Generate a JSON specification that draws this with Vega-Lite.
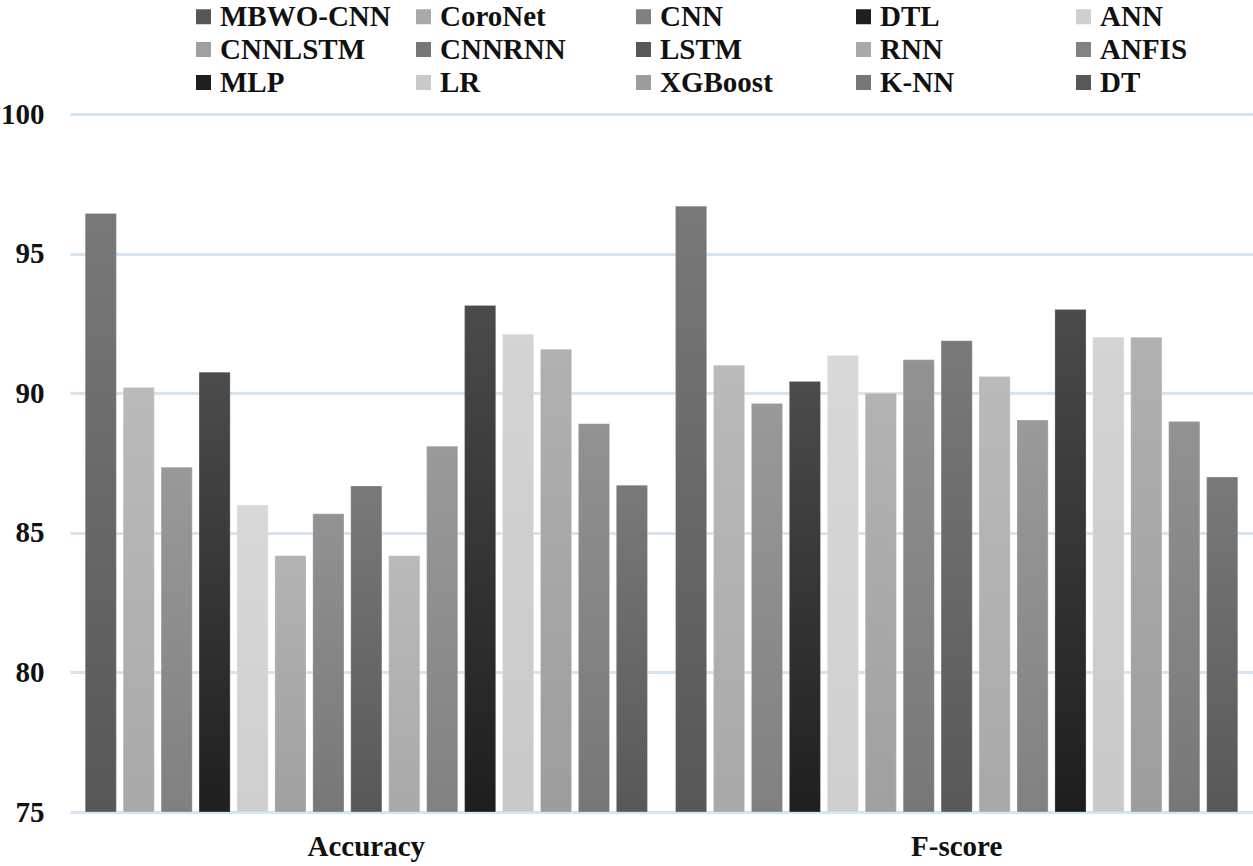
{
  "$schema": "https://vega.github.io/schema/vega-lite/v6.json",
  "width": 1183,
  "height": 698,
  "autosize": {"type": "none"},
  "padding": {"left": 70, "top": 114, "right": 0, "bottom": 54},
  "background": "white",
  "config": {"view": {"stroke": null}, "font": "Liberation Serif"},
  "data": {
    "values": [
      {"metric": "Accuracy", "model": "MBWO-CNN", "value": 96.44},
      {"metric": "Accuracy", "model": "CoroNet", "value": 90.2},
      {"metric": "Accuracy", "model": "CNN", "value": 87.35},
      {"metric": "Accuracy", "model": "DTL", "value": 90.75},
      {"metric": "Accuracy", "model": "ANN", "value": 86.0},
      {"metric": "Accuracy", "model": "CNNLSTM", "value": 84.18},
      {"metric": "Accuracy", "model": "CNNRNN", "value": 85.68},
      {"metric": "Accuracy", "model": "LSTM", "value": 86.68},
      {"metric": "Accuracy", "model": "RNN", "value": 84.18},
      {"metric": "Accuracy", "model": "ANFIS", "value": 88.1},
      {"metric": "Accuracy", "model": "MLP", "value": 93.14},
      {"metric": "Accuracy", "model": "LR", "value": 92.11},
      {"metric": "Accuracy", "model": "XGBoost", "value": 91.57},
      {"metric": "Accuracy", "model": "K-NN", "value": 88.91},
      {"metric": "Accuracy", "model": "DT", "value": 86.7},
      {"metric": "F-score", "model": "MBWO-CNN", "value": 96.7},
      {"metric": "F-score", "model": "CoroNet", "value": 91.0},
      {"metric": "F-score", "model": "CNN", "value": 89.63},
      {"metric": "F-score", "model": "DTL", "value": 90.42},
      {"metric": "F-score", "model": "ANN", "value": 91.35},
      {"metric": "F-score", "model": "CNNLSTM", "value": 90.0},
      {"metric": "F-score", "model": "CNNRNN", "value": 91.2},
      {"metric": "F-score", "model": "LSTM", "value": 91.88},
      {"metric": "F-score", "model": "RNN", "value": 90.6},
      {"metric": "F-score", "model": "ANFIS", "value": 89.04},
      {"metric": "F-score", "model": "MLP", "value": 93.0},
      {"metric": "F-score", "model": "LR", "value": 92.0},
      {"metric": "F-score", "model": "XGBoost", "value": 92.0},
      {"metric": "F-score", "model": "K-NN", "value": 88.99},
      {"metric": "F-score", "model": "DT", "value": 87.0}
    ]
  },
  "encoding": {
    "x": {
      "field": "metric",
      "type": "nominal",
      "sort": ["Accuracy", "F-score"],
      "scale": {"paddingInner": 0.036, "paddingOuter": 0.02},
      "axis": {
        "title": null,
        "labelAngle": 0,
        "domain": false,
        "ticks": false,
        "labelFont": "Liberation Serif",
        "labelFontWeight": "bold",
        "labelFontSize": 29,
        "labelColor": "#111111",
        "labelPadding": 20
      }
    },
    "xOffset": {
      "field": "model",
      "type": "nominal",
      "sort": ["MBWO-CNN", "CoroNet", "CNN", "DTL", "ANN", "CNNLSTM", "CNNRNN", "LSTM", "RNN", "ANFIS", "MLP", "LR", "XGBoost", "K-NN", "DT"],
      "scale": {"paddingInner": 0.18, "paddingOuter": 0.09}
    },
    "y": {
      "field": "value",
      "type": "quantitative",
      "scale": {"domain": [75, 100], "zero": false, "nice": false},
      "axis": {
        "title": null,
        "values": [75, 80, 85, 90, 95, 100],
        "domain": false,
        "ticks": false,
        "grid": true,
        "gridColor": "#d5e4f3",
        "gridWidth": 3,
        "labelFont": "Liberation Serif",
        "labelFontWeight": "bold",
        "labelFontSize": 29,
        "labelColor": "#111111",
        "labelPadding": 26
      }
    },
    "y2": {"datum": 75}
  },
  "layer": [
    {
      "mark": {"type": "bar"},
      "encoding": {
        "color": {
          "field": "model",
          "type": "nominal",
          "scale": {
            "domain": ["MBWO-CNN", "CoroNet", "CNN", "DTL", "ANN", "CNNLSTM", "CNNRNN", "LSTM", "RNN", "ANFIS", "MLP", "LR", "XGBoost", "K-NN", "DT"],
            "range": ["#575757", "#a9a9a9", "#808080", "#1f1f1f", "#cfcfcf", "#a0a0a0", "#777777", "#585858", "#a9a9a9", "#818181", "#1e1e1e", "#c9c9c9", "#9d9d9d", "#777777", "#585858"]
          },
          "legend": {
            "title": null,
            "orient": "none",
            "legendX": 119,
            "legendY": -112,
            "direction": "horizontal",
            "columns": 5,
            "gridAlign": "all",
            "columnPadding": 18,
            "rowPadding": 3,
            "symbolType": "square",
            "symbolSize": 225,
            "symbolStrokeWidth": 0,
            "symbolOpacity": 1,
            "labelFont": "Liberation Serif",
            "labelFontWeight": "bold",
            "labelFontSize": 29,
            "labelColor": "#111111",
            "labelLimit": 300,
            "labelOffset": 2
          }
        }
      }
    },
    {
      "mark": {
        "type": "bar",
        "fill": {
          "gradient": "linear",
          "x1": 0, "y1": 0, "x2": 0, "y2": 1,
          "stops": [
            {"offset": 0, "color": "rgba(255,255,255,0.2)"},
            {"offset": 1, "color": "rgba(255,255,255,0)"}
          ]
        },
        "stroke": "#ffffff",
        "strokeOpacity": 0.25,
        "strokeWidth": 1
      }
    }
  ]
}
